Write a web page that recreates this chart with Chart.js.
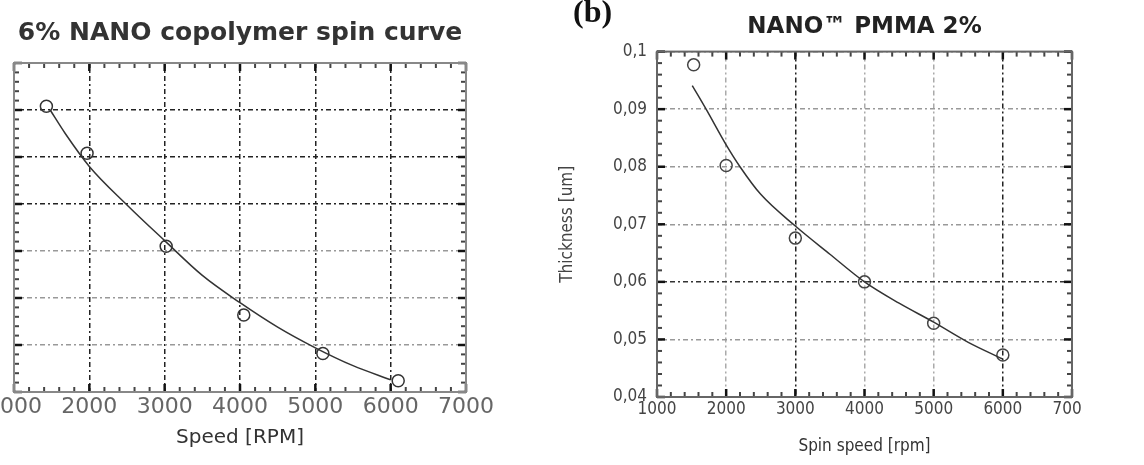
<!DOCTYPE html>
<html>
<head>
<meta charset="utf-8">
<script src="https://cdn.jsdelivr.net/npm/chart.js@4.4.0/dist/chart.umd.min.js"></script>
<style>
  body { margin: 0; background: #fff; width: 1144px; height: 465px; position: relative; overflow: hidden; }
  .box { position: absolute; top: 0; height: 465px; overflow: hidden; }
  #boxA { left: 0; width: 540px; }
  #boxB { left: 540px; width: 542px; }
  #boxA canvas { position: absolute; left: -60px; top: 0; }
  #boxB canvas { position: absolute; left: 0; top: 0; }
  #tag { position: absolute; left: 573px; top: -5px; font: bold 32px "Liberation Serif", serif; line-height: 1; color: #111; }
</style>
</head>
<body>
<div id="boxA" class="box"><canvas id="chartA" width="600" height="465"></canvas></div>
<div id="boxB" class="box"><canvas id="chartB" width="600" height="465"></canvas></div>
<div id="tag">(b)</div>
<script>
// (a) 6% NANO copolymer - measured points and fitted curve (thickness, nm)
const speedA = [1430, 1970, 3020, 4050, 5100, 6100];
const thickA = [454, 404, 305, 232, 191, 162];
const fitSpeedA = [1480, 1680, 2000, 2500, 3000, 3500, 4000, 4500, 5000, 5500, 6000];
const fitThickA = [450, 425, 390, 349, 311, 274, 245, 219, 197, 178, 163];

// (b) NANO PMMA 2% - thickness in um
const speedB = [1530, 2000, 3000, 4000, 5000, 6000];
const thickB = [0.0977, 0.0802, 0.0676, 0.060, 0.0528, 0.0473];
const fitSpeedB = [1510, 1710, 2000, 2200, 2500, 3000, 3500, 4000, 4500, 5000, 5500, 6000];
const fitThickB = [0.0941, 0.0900, 0.0838, 0.0800, 0.0752, 0.0697, 0.0648, 0.0600, 0.0563, 0.0530, 0.0495, 0.0466];

const xTicks = [1000, 2000, 3000, 4000, 5000, 6000, 7000];

const toXY = (xs, ys) => xs.map((x, i) => ({ x: x, y: ys[i] }));
const narrow = "'Liberation Sans Narrow', 'DejaVu Sans Condensed', 'Liberation Sans', sans-serif";

// frame + inward minor/major ticks on all four sides
const frameTicks = {
    id: 'frameTicks',
    beforeDatasetsDraw(chart, args, opts) {
        const { ctx, chartArea: a, scales } = chart;
        const xs = scales.x, ys = scales.y;
        ctx.save();
        const tick = (x1, y1, x2, y2, major) => {
            ctx.beginPath();
            ctx.lineWidth = major ? 2.5 : 2;
            ctx.strokeStyle = major ? '#111' : '#444';
            ctx.moveTo(x1, y1);
            ctx.lineTo(x2, y2);
            ctx.stroke();
        };
        for (let v = xs.min; v <= xs.max + 1e-9; v += opts.xStep) {
            const px = xs.getPixelForValue(v);
            const major = Math.abs(v / opts.xMajor - Math.round(v / opts.xMajor)) < 1e-6;
            const len = major ? 8 : 5;
            tick(px, a.bottom, px, a.bottom - len, major);
            tick(px, a.top, px, a.top + len, major);
        }
        for (let v = ys.min; v <= ys.max + 1e-9; v += opts.yStep) {
            const py = ys.getPixelForValue(v);
            const major = Math.abs(v / opts.yMajor - Math.round(v / opts.yMajor)) < 1e-6;
            const len = major ? 8 : 5;
            tick(a.left, py, a.left + len, py, major);
            tick(a.right, py, a.right - len, py, major);
        }
        ctx.lineWidth = 2;
        ctx.strokeStyle = opts.frame;
        ctx.strokeRect(a.left, a.top, a.right - a.left, a.bottom - a.top);
        ctx.restore();
    }
};

// (a) left panel
new Chart(document.getElementById('chartA'), {
    type: 'scatter',
    data: {
        datasets: [{
            type: 'line',
            data: toXY(fitSpeedA, fitThickA),
            borderColor: '#333',
            borderWidth: 1.5,
            pointRadius: 0,
            cubicInterpolationMode: 'monotone'
        }, {
            data: toXY(speedA, thickA),
            pointStyle: 'circle',
            pointRadius: 6,
            borderColor: '#333',
            borderWidth: 1.5,
            backgroundColor: 'rgba(255,255,255,0)'
        }]
    },
    options: {
        responsive: false,
        animation: false,
        layout: { padding: { left: 0, right: 74, top: 0, bottom: 0 } },
        plugins: {
            legend: { display: false },
            tooltip: { enabled: false },
            title: {
                display: true,
                fullSize: false,
                text: '6% NANO copolymer spin curve',
                color: '#333',
                font: { family: 'DejaVu Sans', size: 25, weight: 'bold' },
                padding: { top: 18, bottom: 15 }
            },
            frameTicks: { xStep: 200, xMajor: 1000, yStep: 10, yMajor: 50, frame: '#888' }
        },
        scales: {
            x: {
                type: 'linear',
                min: 1000, max: 7000,
                afterBuildTicks: s => { s.ticks = xTicks.map(v => ({ value: v })); },
                afterFit: s => { s.height = 73; },
                border: { display: false, dash: [5, 3, 2, 3] },
                grid: { drawTicks: false, color: c => '#222', lineWidth: 1.5 },
                ticks: { padding: 2, maxRotation: 0, color: '#666', callback: v => String(v), font: { family: 'DejaVu Sans', size: 22 } },
                title: { display: true, text: 'Speed [RPM]', color: '#333', font: { family: 'DejaVu Sans', size: 20 }, padding: { top: 0, bottom: 15 } }
            },
            y: {
                min: 150, max: 500,
                afterFit: s => { s.width = 74; },
                border: { display: false, dash: [5, 3, 2, 3] },
                grid: { drawTicks: false, color: c => (c.tick && c.tick.value >= 350 ? '#222' : '#999'), lineWidth: 1.5 },
                ticks: { stepSize: 50, padding: 15, color: '#888', font: { family: 'DejaVu Sans', size: 22 } }
            }
        }
    },
    plugins: [frameTicks]
});

// (b) right panel
const comma = v => Number(v.toFixed(2)).toString().replace('.', ',');

new Chart(document.getElementById('chartB'), {
    type: 'scatter',
    data: {
        datasets: [{
            type: 'line',
            data: toXY(fitSpeedB, fitThickB),
            borderColor: '#333',
            borderWidth: 1.5,
            pointRadius: 0,
            cubicInterpolationMode: 'monotone'
        }, {
            data: toXY(speedB, thickB),
            pointStyle: 'circle',
            pointRadius: 6,
            borderColor: '#444',
            borderWidth: 1.5,
            backgroundColor: 'rgba(255,255,255,0)'
        }]
    },
    options: {
        responsive: false,
        animation: false,
        layout: { padding: { left: 0, right: 68, top: 0, bottom: 0 } },
        plugins: {
            legend: { display: false },
            tooltip: { enabled: false },
            title: {
                display: true,
                fullSize: false,
                text: 'NANO\u2122 PMMA 2%',
                color: '#222',
                font: { family: 'DejaVu Sans', size: 23, weight: 'bold' },
                padding: { top: 13, bottom: 11 }
            },
            frameTicks: { xStep: 200, xMajor: 1000, yStep: 0.002, yMajor: 0.01, frame: '#666' }
        },
        scales: {
            x: {
                type: 'linear',
                min: 1000, max: 7000,
                afterBuildTicks: s => { s.ticks = xTicks.map(v => ({ value: v })); },
                afterFit: s => { s.height = 68; },
                border: { display: false, dash: [5, 3, 2, 3] },
                grid: { drawTicks: false, color: c => ([3000, 6000].includes(c.tick && c.tick.value) ? '#222' : '#aaa'), lineWidth: 1.5 },
                ticks: { padding: 2, maxRotation: 0, color: '#444', callback: v => String(v), font: { family: narrow, size: 17 } },
                title: { display: true, text: 'Spin speed [rpm]', color: '#333', font: { family: narrow, size: 17 }, padding: { top: 0, bottom: 8 } }
            },
            y: {
                min: 0.04, max: 0.1,
                afterFit: s => { s.width = 117; },
                border: { display: false, dash: [5, 3, 2, 3] },
                grid: { drawTicks: false, color: c => (c.tick && Math.abs(c.tick.value - 0.06) < 1e-6 ? '#333' : '#999'), lineWidth: 1.5 },
                ticks: { stepSize: 0.01, padding: 10, color: '#444', callback: comma, font: { family: narrow, size: 17 } },
                title: { display: true, text: 'Thickness [um]', color: '#444', font: { family: narrow, size: 17 }, padding: { top: 17, bottom: 0 } }
            }
        }
    },
    plugins: [frameTicks]
});
</script>
</body>
</html>
